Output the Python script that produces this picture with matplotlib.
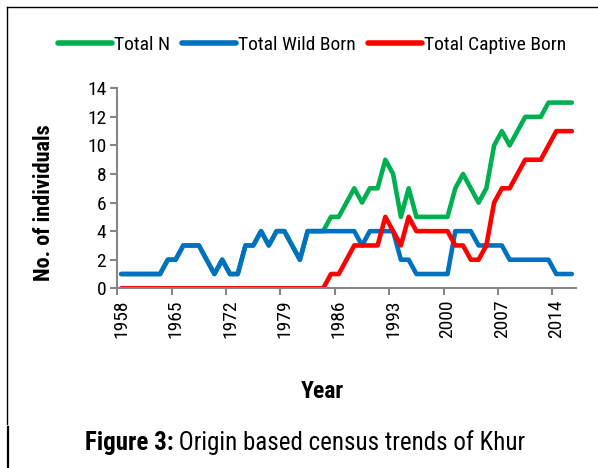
import matplotlib
matplotlib.use("Agg")
import matplotlib.pyplot as plt
from matplotlib.lines import Line2D

FONT = ["Roboto Condensed", "Liberation Sans", "DejaVu Sans"]
plt.rcParams["font.family"] = FONT

YEARS = list(range(1958, 2017))
TOTAL_N = [
    1, 1, 1, 1, 1, 1, 2, 2, 3, 3, 3, 2, 1, 2, 1, 1, 3, 3, 4, 3,
    4, 4, 3, 2, 4, 4, 4, 5, 5, 6, 7, 6, 7, 7, 9, 8, 5, 7, 5, 5,
    5, 5, 5, 7, 8, 7, 6, 7, 10, 11, 10, 11, 12, 12, 12, 13, 13, 13, 13,
]
WILD_BORN = [
    1, 1, 1, 1, 1, 1, 2, 2, 3, 3, 3, 2, 1, 2, 1, 1, 3, 3, 4, 3,
    4, 4, 3, 2, 4, 4, 4, 4, 4, 4, 4, 3, 4, 4, 4, 4, 2, 2, 1, 1,
    1, 1, 1, 4, 4, 4, 3, 3, 3, 3, 2, 2, 2, 2, 2, 2, 1, 1, 1,
]
CAPTIVE_BORN = [
    0, 0, 0, 0, 0, 0, 0, 0, 0, 0, 0, 0, 0, 0, 0, 0, 0, 0, 0, 0,
    0, 0, 0, 0, 0, 0, 0, 1, 1, 2, 3, 3, 3, 3, 5, 4, 3, 5, 4, 4,
    4, 4, 4, 3, 3, 2, 2, 3, 6, 7, 7, 8, 9, 9, 9, 10, 11, 11, 11,
]
SERIES = [
    ("Total N", TOTAL_N, "#00B050"),
    ("Total Wild Born", WILD_BORN, "#0070C0"),
    ("Total Captive Born", CAPTIVE_BORN, "#FF0000"),
]
LABEL_YEARS = list(range(1958, 2017, 7))
GRAY = "#868686"

W, H = 598, 468
fig = plt.figure(figsize=(W / 100, H / 100), dpi=100)
ax = fig.add_axes((117.3 / W, 1 - 288.3 / H, 458.4 / W, 200.0 / H))

for name, vals, color in SERIES:
    ax.plot(YEARS, vals, color=color, lw=3.3, solid_capstyle="round",
            solid_joinstyle="round", label=name)

ax.set_xlim(YEARS[0] - 0.5, YEARS[-1] + 0.5)
ax.set_ylim(0, 14)
ax.set_yticks(range(0, 15, 2))
# ticks sit between categories, labels on the categories
ax.set_xticks([y - 0.5 for y in LABEL_YEARS])
ax.set_xticklabels([])
ax.set_xticks(LABEL_YEARS, minor=True)
ax.set_xticklabels([str(y) for y in LABEL_YEARS], minor=True, rotation=90)

for s in ("top", "right"):
    ax.spines[s].set_visible(False)
for s in ("left", "bottom"):
    ax.spines[s].set_color(GRAY)
    ax.spines[s].set_linewidth(1.5)
ax.tick_params(axis="both", which="major", color=GRAY, width=1.5,
               length=5, labelsize=14, pad=3)
ax.tick_params(axis="x", which="minor", length=0, labelsize=14, pad=8)

fig.text(44 / W, 1 - 203 / H, "No. of individuals", rotation=90,
         ha="center", va="center", fontsize=16, fontweight="bold")
fig.text(322 / W, 1 - 392 / H, "Year", ha="center", va="center",
         fontsize=17, fontweight="bold")

handles = [Line2D([], [], color=c, lw=4, solid_capstyle="round")
           for _, _, c in SERIES]
fig.legend(handles, [n for n, _, _ in SERIES], loc="center",
           bbox_to_anchor=(312 / W, 1 - 45 / H), ncol=3, frameon=False,
           fontsize=14, handlelength=2.8, handletextpad=0.1,
           columnspacing=0.6)

# caption: bold prefix, regular remainder
cap_y = 1 - 443 / H
t1 = fig.text(0, cap_y, "Figure 3:", ha="left", va="center",
              fontsize=18, fontweight="bold")
t2 = fig.text(0, cap_y, " Origin based census trends of Khur", ha="left",
              va="center", fontsize=18)
fig.canvas.draw()
r = fig.canvas.get_renderer()
w1 = t1.get_window_extent(r).width
w2 = t2.get_window_extent(r).width
x0 = (305 - (w1 + w2) / 2)
t1.set_x(x0 / W)
t2.set_x((x0 + w1) / W)

# page frame
fig.add_artist(Line2D([7 / W, 1], [1 - 7 / H, 1 - 7 / H], color="black",
                      lw=1.0, transform=fig.transFigure))
fig.add_artist(Line2D([7 / W, 7 / W], [1 - 7 / H, 1 - 424 / H],
                      color="black", lw=1.0, transform=fig.transFigure))
fig.add_artist(Line2D([7.5 / W, 7.5 / W], [1 - 427 / H, 0], color="black",
                      lw=1.6, transform=fig.transFigure))

fig.savefig("out.png", dpi=100)
plt.close(fig)
